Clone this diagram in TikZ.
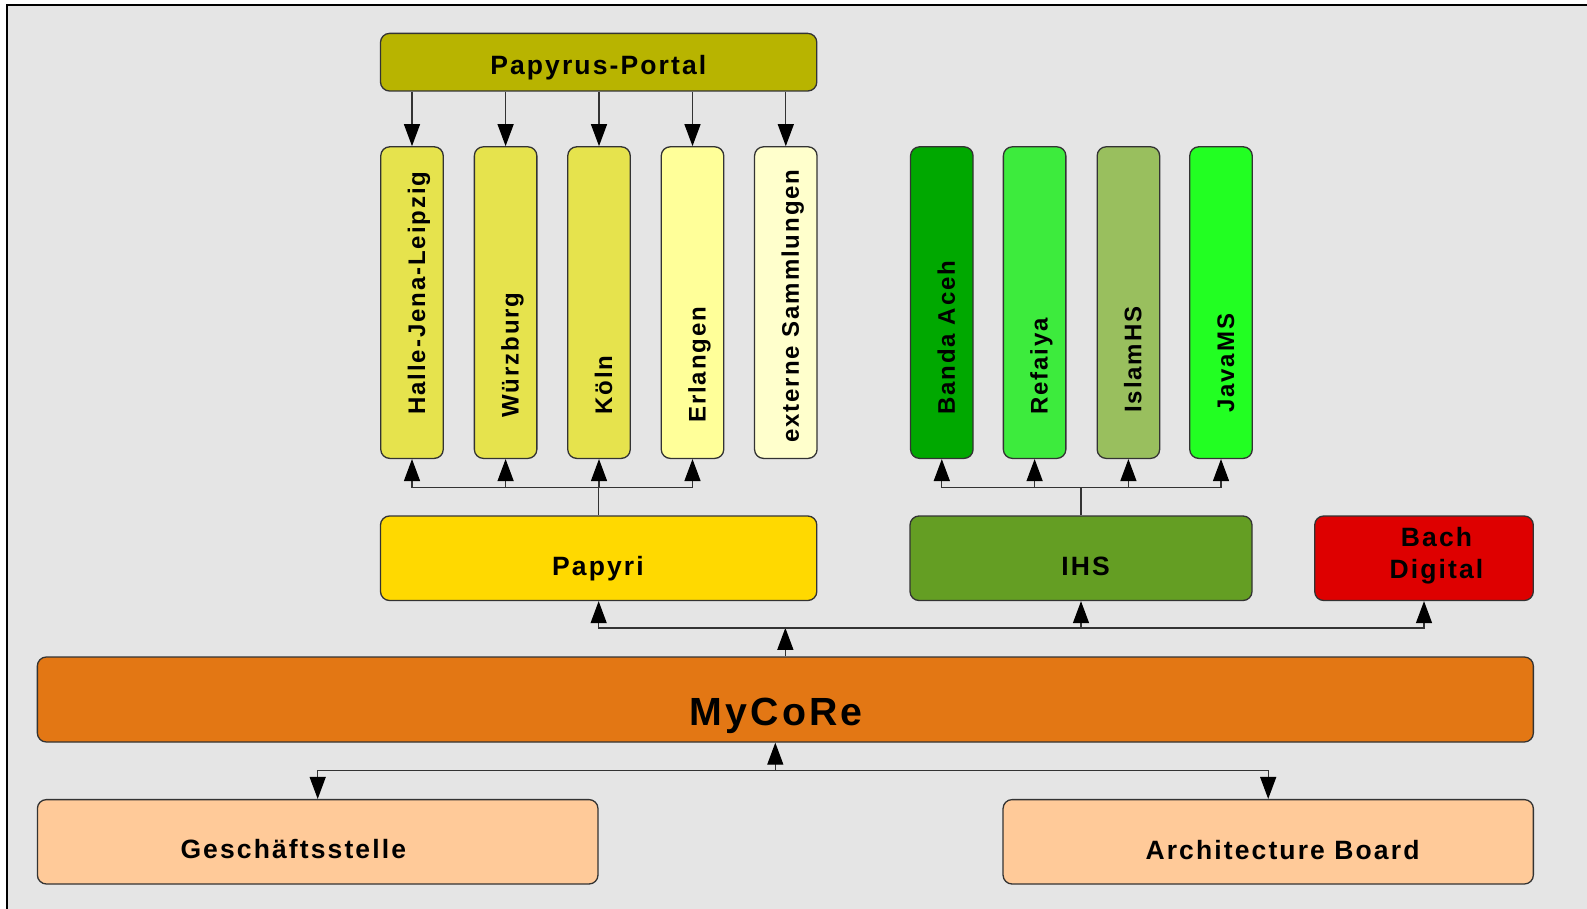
\documentclass[tikz,border=0pt]{standalone}
\usepackage{fontspec}
\setmainfont{Liberation Sans}
\newfontfamily\labfont[LetterSpace=8]{Liberation Sans}
\usetikzlibrary{arrows.meta,calc}
\definecolor{bgray}{HTML}{E5E5E5}
\definecolor{cportal}{HTML}{B8B400}
\definecolor{cyel}{HTML}{E6E34D}
\definecolor{cerl}{HTML}{FFFF99}
\definecolor{cext}{HTML}{FFFFCC}
\definecolor{cbanda}{HTML}{00A800}
\definecolor{crefa}{HTML}{3DEB3D}
\definecolor{cislam}{HTML}{99BF5E}
\definecolor{cjava}{HTML}{22FF22}
\definecolor{cpapyri}{HTML}{FFD900}
\definecolor{cihs}{HTML}{649E23}
\definecolor{cbach}{HTML}{DE0000}
\definecolor{cmycore}{HTML}{E37714}
\definecolor{corg}{HTML}{FFCA99}
\begin{document}
\begin{tikzpicture}[x=1pt,y=-1pt,
  box/.style={draw=black!80, line width=1.3pt, rounded corners=9pt, inner sep=0pt},
  colbox/.style={box, minimum width=62.5pt, minimum height=311.6pt},
  bigbox/.style={box, minimum height=84.5pt},
  lab/.style={font=\labfont\bfseries\fontsize{26.5}{31.6}\selectfont, inner sep=0pt},
  collab/.style={font=\labfont\bfseries\fontsize{24}{28}\selectfont, inner sep=0pt, rotate=90, anchor=base west},
  conn/.style={draw=black!80, line width=1.3pt},
  arr/.style={conn, -{Triangle[length=22pt,width=16pt,color=black]}}]
\clip (0,0) rectangle (1587,909);
\fill[white] (0,0) rectangle (1587,909);
\draw[fill=bgray, line width=1.5pt] (7,5) rectangle (1610,930);

% top
\node[box, fill=cportal, minimum width=436.3pt, minimum height=57.6pt] (portal) at (598.65,62.2) {};
\node[lab, anchor=base] (portal-t) at (598.3,75) {Papyrus-Portal};

% yellow columns
\node[colbox, fill=cyel] (c1) at (412,302.6) {};
\node[colbox, fill=cyel] (c2) at (505.6,302.6) {};
\node[colbox, fill=cyel] (c3) at (599,302.6) {};
\node[colbox, fill=cerl] (c4) at (692.5,302.6) {};
\node[colbox, fill=cext] (c5) at (785.8,302.6) {};
\node[collab] (c1-t) at (425,415) {Halle-Jena-Leipzig};
\node[collab] (c2-t) at (518.6,418) {Würzburg};
\node[collab] (c3-t) at (612,415) {Köln};
\node[collab] (c4-t) at (705.5,423) {Erlangen};
\node[collab] (c5-t) at (798.8,443) {externe Sammlungen};

% green columns
\node[colbox, fill=cbanda] (g1) at (941.8,302.6) {};
\node[colbox, fill=crefa] (g2) at (1034.6,302.6) {};
\node[colbox, fill=cislam] (g3) at (1128.4,302.6) {};
\node[colbox, fill=cjava] (g4) at (1221,302.6) {};
\node[collab] (g1-t) at (954.8,415) {Banda Aceh};
\node[collab] (g2-t) at (1047.6,415) {Refaiya};
\node[collab] (g3-t) at (1141.4,413) {IslamHS};
\node[collab] (g4-t) at (1234,413) {JavaMS};

% applications
\node[bigbox, fill=cpapyri, minimum width=436.3pt] (papyri) at (598.65,558.25) {};
\node[lab, anchor=base] (papyri-t) at (598,575.7) {Papyri};
\node[bigbox, fill=cihs, minimum width=342pt] (ihs) at (1081,558.25) {};
\node[lab, anchor=base] (ihs-t) at (1085.5,575.7) {IHS};
\node[bigbox, fill=cbach, minimum width=218.6pt] (bach) at (1424,558.25) {};
\node[lab, align=center] (bach-t) at (1436.5,555.5) {Bach\\Digital};

% MyCoRe
\node[bigbox, fill=cmycore, minimum width=1496pt, minimum height=85pt] (mycore) at (785.35,699.5) {};
\node[lab, anchor=base, font=\labfont\bfseries\fontsize{39.3}{45}\selectfont] (mycore-t) at (776.3,725) {MyCoRe};

% organisation
\node[bigbox, fill=corg, minimum width=560.6pt, minimum height=84.4pt] (gs) at (317.7,841.8) {};
\node[lab, anchor=base] (gs-t) at (293.3,858.3) {Geschäftsstelle};
\node[bigbox, fill=corg, minimum width=530.3pt, minimum height=84.4pt] (ab) at (1268.2,841.8) {};
\node[lab, anchor=base] (ab-t) at (1282.5,859) {Architecture Board};

% connectors: portal
\foreach \c in {c1,c2,c3,c4,c5}
  \draw[arr] (\c.north |- portal.south) -- (\c.north);

% papyri bus
\coordinate (pb) at ($(papyri.north)+(0,-28)$);
\draw[conn] (papyri.north) -- (pb);
\foreach \c in {c1,c2,c3,c4}
  \draw[arr] (pb) -| (\c.south);

% ihs bus
\coordinate (ib) at ($(ihs.north)+(0,-28)$);
\draw[conn] (ihs.north) -- (ib);
\foreach \c in {g1,g2,g3,g4}
  \draw[arr] (ib) -| (\c.south);

% mycore upper bus
\coordinate (mb) at ($(mycore.north)+(0,-28.5)$);
\draw[arr] (mycore.north) -- (mb);
\foreach \c in {papyri,ihs,bach}
  \draw[arr] (mb) -| (\c.south);

% lower bus
\coordinate (lb) at (775.3,770.5);
\draw[arr] (lb) -- (lb |- mycore.south);
\draw[arr] (lb) -| (gs.north);
\draw[arr] (lb) -| (ab.north);
\end{tikzpicture}
\end{document}
